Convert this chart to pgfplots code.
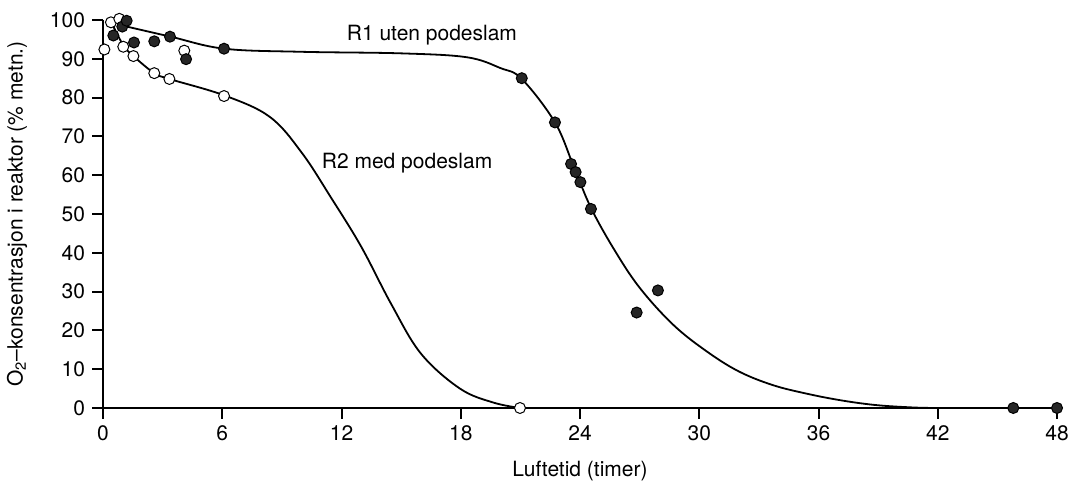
\documentclass[border=0pt]{standalone}
\usepackage{fontspec}
\setmainfont{TeX Gyre Heros}
\usepackage{pgfplots}
\pgfplotsset{compat=1.18}
\begin{document}
\begin{tikzpicture}
\begin{axis}[
  scale only axis, width=477pt, height=194pt,
  xmin=0, xmax=48, ymin=0, ymax=100,
  axis lines=left, axis line style={-, line width=1pt},
  xtick={0,6,...,48}, ytick={0,10,...,100},
  tick align=outside, major tick length=5.5pt,
  every tick/.style={black, line width=1pt},
  tick label style={font=\fontsize{10.5}{12}\selectfont},
  /pgf/number format/assume math mode=true,
  clip=false,
  xlabel={Luftetid (timer)},
  ylabel={O\textsubscript{2}--konsentrasjon i reaktor (\% metn.)},
  label style={font=\fontsize{10.5}{12}\selectfont},
  xlabel style={at={(axis description cs:0.5,-0.1624)}, anchor=center},
  ylabel style={at={(axis description cs:-0.0901,0.5)}, anchor=center},
]
% R1 curve
\addplot[black, line width=0.9pt, smooth, tension=0.6, no marks] coordinates {
 (0.86,98.7) (3.4,95.7) (6.1,92.6) (10,91.8) (15,91.4) (18.3,90.4)
 (20,87.6) (21.07,84.8) (22.74,73.6) (23.7,62.0) (24.55,51.6) (25.7,41.0)
 (27,31.0) (28.7,21.4) (30.4,14.5) (32,9.4) (33.7,5.9) (35.4,3.7) (37.1,2.0)
 (38.8,0.8) (40.5,0.2) (42,0) (45.8,0) (48,0)};
% R2 curve
\addplot[black, line width=0.9pt, smooth, tension=0.6, no marks] coordinates {
 (0.44,99.2) (1.02,93.5) (1.53,90.7) (2.58,86.3) (3.34,84.8) (6.14,80.5)
 (8.4,75.0) (10.0,65.8) (11.5,54.0) (13.0,41.5) (14.5,26.8)
 (16.0,14.0) (17.96,5.0) (19.64,1.4) (21,0)};
% R2 points (open)
\addplot[only marks, mark=*, mark size=2.75pt, mark options={fill=white, draw=black, line width=0.5pt}] coordinates {
 (0.07,92.4) (0.4,99.4) (0.82,100.3) (1.02,93.1) (1.53,90.7) (2.58,86.3)
 (3.34,84.8) (4.09,92.1) (6.09,80.4) (20.98,0)};
% R1 points (filled)
\addplot[only marks, mark=*, mark size=2.75pt, mark options={fill=black!85, draw=black, line width=0.5pt}] coordinates {
 (0.52,96.0) (0.97,98.3) (1.19,99.8) (1.56,94.2) (2.58,94.5) (3.37,95.7)
 (4.18,89.9) (6.09,92.6) (21.07,85.0) (22.74,73.6) (23.55,62.9) (23.78,60.8)
 (24.02,58.2) (24.55,51.3) (26.85,24.6) (27.92,30.3) (45.8,0) (48,0)};
\node[font=\fontsize{10.5}{12}\selectfont] at (axis cs:16.55,96.1) {R1 uten podeslam};
\node[font=\fontsize{10.5}{12}\selectfont] at (axis cs:15.3,63.1) {R2 med podeslam};
\end{axis}
\pgfresetboundingbox
\path ([shift={(-51.5pt,-38pt)}]current axis.south west) rectangle ([shift={(7.5pt,10pt)}]current axis.north east);
\end{tikzpicture}
\end{document}
